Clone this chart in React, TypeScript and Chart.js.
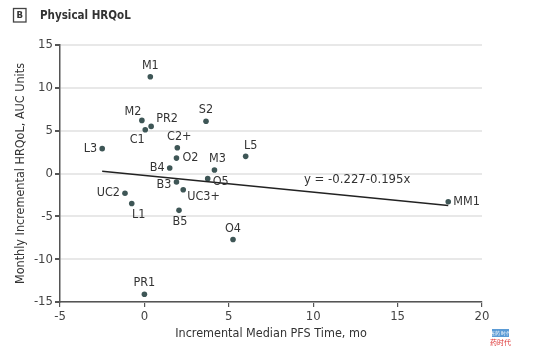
import React, { useEffect, useRef } from "react";
import { Chart, registerables } from "chart.js";

Chart.register(...registerables);

const studyNames = ["M1", "M2", "PR2", "C1", "L3", "C2+", "O2", "B4", "M3", "O5", "B3", "UC3+", "S2", "L5", "UC2", "L1", "B5", "O4", "PR1", "MM1"];
const pfsTime = [0.35, -0.15, 0.4, 0.05, -2.5, 1.95, 1.9, 1.5, 4.15, 3.75, 1.9, 2.3, 3.65, 6.0, -1.15, -0.75, 2.05, 5.25, 0.0, 18.0];
const hrqol = [11.3, 6.2, 5.5, 5.1, 2.9, 3.0, 1.8, 0.65, 0.4, -0.6, -1.0, -1.9, 6.1, 2.0, -2.3, -3.5, -4.3, -7.7, -14.1, -3.3];
const fitIntercept = -0.227;
const fitSlope = -0.195;
const fitRange = [-2.5, 18.0];
const xTicks = [-5, 0, 5, 10, 15, 20];
const yTicks = [-15, -10, -5, 0, 5, 10, 15];

// label placement (px offsets, alignment) — style only
const labelPlacement: [number, number, CanvasTextAlign][] = [
  [0, -11, "center"], [-9, -9, "center"], [5, -8, "left"], [-8, 10, "center"],
  [-5, 0, "right"], [2, -11, "center"], [6, 0, "left"], [-5, 0, "right"],
  [3, -11, "center"], [5, 3, "left"], [-5, 3, "right"], [4, 7, "left"],
  [0, -11, "center"], [5, -11, "center"], [-5, 0, "right"], [7, 11, "center"],
  [1, 11, "center"], [0, -11, "center"], [0, -12, "center"], [5, 0, "left"],
];

const FONT = "'Liberation Sans Narrow', 'DejaVu Sans Condensed', 'Open Sans', sans-serif";

const labelPlugin = {
  id: "pointLabels",
  afterDatasetsDraw(chart: any) {
    const ctx = chart.ctx;
    const xs = chart.scales.x;
    const ys = chart.scales.y;
    ctx.save();
    ctx.font = `12.5px ${FONT}`;
    ctx.fillStyle = "#333";
    ctx.textBaseline = "middle";
    studyNames.forEach((n, i) => {
      const px = xs.getPixelForValue(pfsTime[i]);
      const py = ys.getPixelForValue(hrqol[i]);
      const [dx, dy, al] = labelPlacement[i];
      ctx.textAlign = al;
      ctx.fillText(n, px + dx, py + dy);
    });
    // equation
    ctx.textAlign = "left";
    ctx.font = `13px ${FONT}`;
    const eq = `y = ${fitIntercept.toFixed(3)}${fitSlope.toFixed(3)}x`;
    ctx.fillText(eq, xs.getPixelForValue(9.45), ys.getPixelForValue(-0.75));
    // title
    ctx.strokeStyle = "#444";
    ctx.lineWidth = 1.3;
    ctx.strokeRect(13.5, 8.5, 12.5, 13.5);
    ctx.fillStyle = "#333";
    ctx.font = `bold 9.5px ${FONT}`;
    ctx.textAlign = "center";
    ctx.fillText("B", 19.75, 15.5);
    ctx.textAlign = "left";
    ctx.font = `bold 11.5px ${FONT}`;
    ctx.fillText("Physical HRQoL", 40, 16);
    // watermark
    ctx.fillStyle = "#5b9bd5";
    ctx.fillRect(492, 329, 17, 8);
    ctx.fillStyle = "#fff";
    ctx.font = `5px ${FONT}`;
    ctx.textAlign = "center";
    ctx.fillText("医药 时代", 500.5, 333.5);
    ctx.fillStyle = "#d33";
    ctx.font = `7px 'Noto Sans CJK SC', sans-serif`;
    ctx.fillText("药时代", 500.5, 342);
    ctx.restore();
  },
};

export default function App() {
  const ref = useRef<HTMLCanvasElement>(null);
  useEffect(() => {
    if (!ref.current) return;
    const points = pfsTime.map((x, i) => ({ x, y: hrqol[i] }));
    const fit = fitRange.map((x) => ({ x, y: fitIntercept + fitSlope * x }));
    const chart = new Chart(ref.current, {
      type: "scatter",
      data: {
        datasets: [
          {
            data: fit,
            type: "line",
            showLine: true,
            borderColor: "#222",
            borderWidth: 1.3,
            pointRadius: 0,
            fill: false,
          } as any,
          {
            data: points,
            backgroundColor: "#3e5656",
            borderColor: "#3e5656",
            pointRadius: 2.8,
            borderWidth: 0,
          },
        ],
      },
      options: {
        animation: false,
        responsive: false,
        layout: { padding: { top: 45, right: 60, left: 0, bottom: 0 } },
        plugins: { legend: { display: false }, tooltip: { enabled: false }, title: { display: false } },
        scales: {
          x: {
            type: "linear",
            min: -5,
            max: 20,
            afterBuildTicks: (s: any) => { s.ticks = xTicks.map((v) => ({ value: v })); },
            afterFit: (s: any) => { s.height = 52; },
            grid: { drawOnChartArea: false, drawTicks: true, tickLength: 5, tickColor: "#555", lineWidth: 1.2 },
            border: { display: true, color: "#555", width: 1.5 },
            ticks: { color: "#444", font: { size: 13, family: FONT }, padding: 2, maxRotation: 0 },
            title: { display: true, text: "Incremental Median PFS Time, mo", color: "#333", font: { size: 12.5, family: FONT }, padding: { top: 2, bottom: 13 } },
          },
          y: {
            type: "linear",
            min: -15,
            max: 15,
            afterBuildTicks: (s: any) => { s.ticks = yTicks.map((v) => ({ value: v })); },
            afterFit: (s: any) => { s.width = 60; },
            grid: { color: "#e8e8e8", lineWidth: 2, drawTicks: true, tickLength: 5, tickColor: "#555" },
            border: { display: true, color: "#555", width: 1.5 },
            ticks: { color: "#444", font: { size: 13, family: FONT }, padding: 2 },
            title: { display: true, text: "Monthly Incremental HRQoL, AUC Units", color: "#333", font: { size: 12.5, family: FONT }, padding: { top: 13, bottom: 2 } },
          },
        },
      },
      plugins: [labelPlugin],
    });
    return () => chart.destroy();
  }, []);
  return (
    <div style={{ position: "fixed", left: 0, top: 0, width: 542, height: 354, background: "#fff" }}>
      <canvas ref={ref} width={542} height={354} style={{ width: 542, height: 354 }} />
    </div>
  );
}
